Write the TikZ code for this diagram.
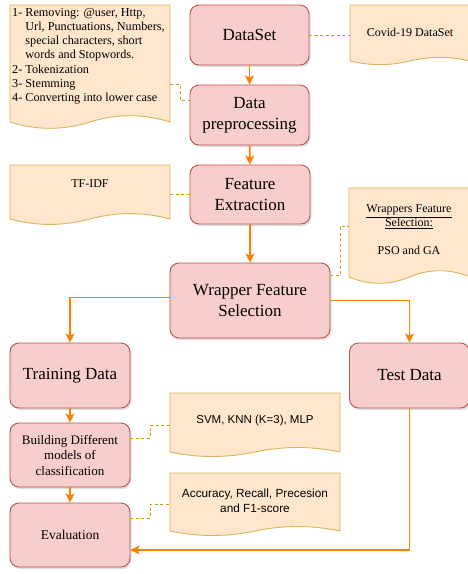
\documentclass[tikz,border=0pt]{standalone}
\usepackage{fontspec}
\setmainfont{Liberation Serif}
\newfontfamily\arialf{Liberation Sans}
\usetikzlibrary{arrows.meta,shadows,calc}
\definecolor{boxfill}{HTML}{F8CECC}
\definecolor{boxdraw}{HTML}{B85450}
\definecolor{docfill}{HTML}{FFE6CC}
\definecolor{docdraw}{HTML}{D6B656}
\definecolor{arrowc}{HTML}{FF8000}
\definecolor{dashc}{HTML}{D79B00}
\tikzset{
  procbox/.style={draw=boxdraw, fill=boxfill, rounded corners=9pt, line width=0.9pt,
    align=center, inner sep=0pt,
    drop shadow={shadow xshift=1.5pt, shadow yshift=-2pt, opacity=0.25}},
  docstyle/.style={draw=docdraw, fill=docfill, line width=0.9pt},
  flow/.style={draw=arrowc, line width=1.8pt, -{Stealth[length=9pt,width=9pt,inset=2pt]}},
  dashcon/.style={draw=dashc, line width=0.8pt, dash pattern=on 3pt off 2.5pt},
  bigtxt/.style={font=\fontsize{17}{21}\selectfont},
  doctxt/.style={font=\fontsize{12}{14}\selectfont, align=center, inner sep=0pt},
}
\newcommand\docshape[6]{%
  \path[docstyle] (#2,#3) -- (#4,#3) -- (#4,{#5-0.5*#6})
    .. controls ({#4-(#4-#2)/6},{#5-1.1*#6}) and ({#2+2*(#4-#2)/3},{#5-1.1*#6}) .. ({(#2+#4)/2},{#5-0.5*#6})
    .. controls ({#2+(#4-#2)/3},{#5+0.1*#6}) and ({#2+(#4-#2)/6},{#5+0.1*#6}) .. (#2,{#5-0.5*#6}) -- cycle;
  \node[inner sep=0pt, minimum width={#4-#2}, minimum height={#5-#3}] (#1) at ({(#2+#4)/2},{(#3+#5)/2}) {};
}
\begin{document}
\begin{tikzpicture}[x=1pt,y=-1pt]
\useasboundingbox (0,0) rectangle (468,574);
\clip (0,0) rectangle (468,574);
\fill[white] (0,0) rectangle (468,574);

% process boxes
\node[procbox, bigtxt, minimum width=119pt, minimum height=60pt] (ds) at (249.5,35) {DataSet};
\node[procbox, bigtxt, minimum width=119pt, minimum height=60pt] (prep) at (249.5,115) {Data\\preprocessing};
\node[procbox, bigtxt, minimum width=120pt, minimum height=59pt] (fe) at (250,194.5) {Feature\\Extraction};
\node[procbox, bigtxt, minimum width=160pt, minimum height=75pt] (wfs) at (250,300.5) {Wrapper Feature\\Selection};
\node[procbox, bigtxt, minimum width=120pt, minimum height=65pt] (train) at (70,375.5) {Training Data};
\node[procbox, bigtxt, minimum width=120pt, minimum height=65pt] (test) at (409.5,375.5) {Test Data};
\node[procbox, font=\fontsize{13}{15.5}\selectfont, minimum width=120pt, minimum height=64pt] (build) at (70,455) {Building Different\\models of\\classification};
\node[procbox, font=\fontsize{13.5}{16}\selectfont, minimum width=120pt, minimum height=64pt] (eval) at (70,535) {Evaluation};

% documents
\docshape{ldoc}{10}{5}{170}{129}{14}
\node[anchor=north west, inner sep=0pt, align=left, font=\fontsize{12.2}{14.2}\selectfont] (ldoctxt) at (12,8)
  {1- Removing: @user, Http,\\
   \phantom{1- }Url, Punctuations, Numbers,\\
   \phantom{1- }special characters, short\\
   \phantom{1- }words and Stopwords.\\
   2- Tokenization\\
   3- Stemming\\
   4- Converting into lower case};

\docshape{covid}{350}{5}{470}{65}{8}
\node[doctxt] (covidtxt) at (410,32) {Covid-19 DataSet};

\docshape{tfdoc}{10}{165}{170}{225}{12}
\node[doctxt] (tftxt) at (90,184) {TF-IDF};

\docshape{wdoc}{349}{188}{470}{284}{14}
\node[doctxt] (wtxt) at (409,230) {\underline{Wrappers Feature}\\\underline{Selection:}\\[14pt]PSO and GA};

\docshape{svmdoc}{170}{393}{340}{457}{10}
\node[doctxt, font=\arialf\fontsize{11.5}{15}\selectfont] (svmtxt) at (255,421) {SVM, KNN (K=3), MLP};

\docshape{accdoc}{170}{473}{340}{536}{10}
\node[doctxt, font=\arialf\fontsize{11.8}{15}\selectfont] (acctxt) at (255,500.5) {Accuracy, Recall, Precesion\\and F1-score};

% dashed associations
\coordinate (w1) at (0,226);
\coordinate (b1) at (0,438);
\coordinate (s1) at (0,425);
\coordinate (e1) at (0,518);
\coordinate (a1) at (0,504);
\draw[dashcon] (ds.east) -- (covid.west |- ds.east);
\draw[dashcon] (ldoc.east |- prep.north) -- ++(10,0) |- ([yshift=15pt]prep.west);
\draw[dashcon] (tfdoc.east |- fe.west) -- (fe.west);
\draw[dashcon] ([yshift=25.5pt]wfs.east) -- ++(10,0) |- (wdoc.west |- w1);
\draw[dashcon] (build.east |- b1) -- ++(20,0) |- (svmdoc.west |- s1);
\draw[dashcon] (eval.east |- e1) -- ++(20,0) |- (accdoc.west |- a1);

% flow arrows
\draw[flow] (ds) -- (prep);
\draw[flow] (prep) -- (fe);
\draw[flow] (fe) -- (wfs);
\draw[flow] ([yshift=3pt]wfs.west) -| (train.north);
\draw[flow] (wfs.east) -| (test.north);
\draw[flow] (train) -- (build);
\draw[flow] (build) -- (eval);
\draw[flow] (test.south) |- ([yshift=-15pt]eval.east);
\end{tikzpicture}
\end{document}
